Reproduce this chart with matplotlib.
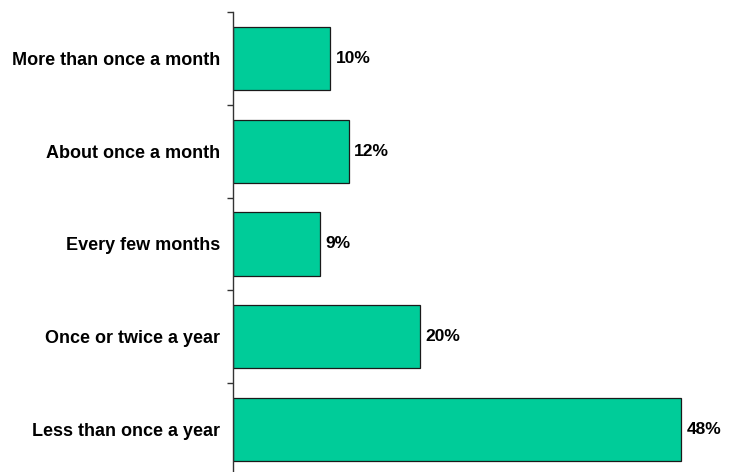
import numpy as np
import matplotlib.pyplot as plt

# Categories listed top to bottom, as in the chart
categories = [
    "More than once a month",
    "About once a month",
    "Every few months",
    "Once or twice a year",
    "Less than once a year",
]
shares = [10.4, 12.4, 9.3, 20.0, 48.0]

plt.rcParams["font.family"] = ["Liberation Sans", "DejaVu Sans"]
plt.rcParams["font.weight"] = "bold"

fig = plt.figure(figsize=(7.37, 4.72), dpi=100)
ax = fig.add_axes([233 / 737, -4 / 472, 466.5 / 737, 464 / 472])

y = np.arange(len(categories))
ax.barh(y, shares, height=0.68, color="#00CC99", edgecolor="#1a1a1a", linewidth=0.9)

for yi, v in zip(y, shares):
    ax.annotate(f"{v:.0f}%", (v, yi), xytext=(4, 0), textcoords="offset points",
                va="center", ha="left", fontsize=12.5, fontweight="bold")

ax.set_xlim(0, 50)
ax.set_ylim(len(categories) - 0.5, -0.5)

ax.set_yticks(y)
ax.set_yticklabels(categories, fontsize=13, fontweight="bold")
ax.tick_params(axis="y", which="major", length=0, pad=9.5)
ax.set_yticks(np.arange(-0.5, len(categories), 1.0), minor=True)
ax.tick_params(axis="y", which="minor", length=4, width=1, color="#333333")

ax.set_xticks([])
for side in ("top", "right", "bottom"):
    ax.spines[side].set_visible(False)
ax.spines["left"].set_color("#333333")
ax.spines["left"].set_linewidth(1)

fig.savefig("out.png", dpi=100)
